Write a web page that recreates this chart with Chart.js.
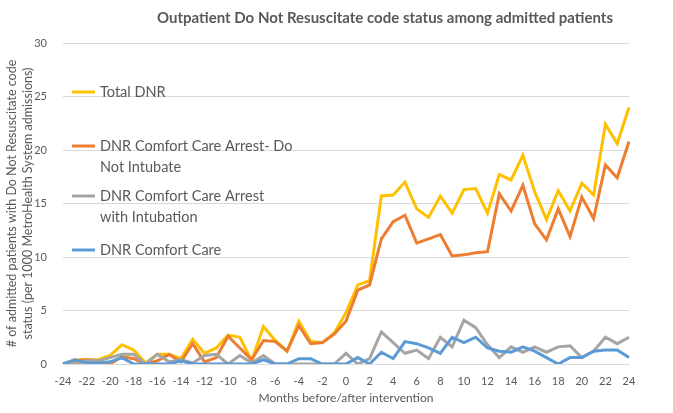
<!DOCTYPE html>
<html>
<head>
<meta charset="utf-8">
<title>Outpatient DNR code status</title>
<script src="https://cdn.jsdelivr.net/npm/chart.js"></script>
<style>
  html, body { margin: 0; padding: 0; background: #fff; }
  #wrap { width: 673px; height: 413px; position: relative; }
</style>
</head>
<body>
<div id="wrap"><canvas id="dnrChart"></canvas></div>
<script>
// months before/after the intervention
const months = [-24,-23,-22,-21,-20,-19,-18,-17,-16,-15,-14,-13,-12,-11,-10,-9,-8,-7,-6,-5,-4,-3,-2,-1,
  0,1,2,3,4,5,6,7,8,9,10,11,12,13,14,15,16,17,18,19,20,21,22,23,24];

// per 1000 admissions
const totalDNR = [0,0.4,0.4,0.4,0.8,1.8,1.3,0.1,0.9,0.9,0.5,2.3,1.0,1.5,2.7,2.5,0.3,3.5,2.2,1.2,4.0,2.1,2.0,2.9,
  4.8,7.4,7.8,15.7,15.8,17.0,14.5,13.7,15.7,14.1,16.3,16.4,14.1,17.7,17.2,19.5,16.1,13.5,16.2,14.3,16.9,15.8,22.4,20.6,24.0];
const dnrCcaDni = [0,0.3,0.4,0.3,0,0.7,0.5,0,0.3,0.9,0.2,1.9,0.2,0.6,2.6,1.5,0.4,2.2,2.1,1.2,3.6,1.9,2.0,2.8,
  4.0,6.9,7.4,11.7,13.3,13.9,11.3,11.7,12.1,10.1,10.2,10.4,10.5,15.9,14.3,16.7,13.1,11.6,14.5,11.9,15.6,13.6,18.6,17.4,20.8];
const dnrCcaIntub = [0,0,0.3,0.3,0.6,0.9,0.9,0,0.9,0.2,0.4,0.1,0.8,0.9,0,0.8,0.1,0.8,0,0,0,0,0,0,
  1.0,0,0.5,3.0,2.0,1.0,1.3,0.5,2.5,1.6,4.1,3.4,1.8,0.6,1.6,1.1,1.6,1.1,1.6,1.7,0.6,1.2,2.5,1.9,2.5];
const dnrCc = [0,0.4,0.1,0.1,0.2,0.6,0,0,0,0,0.3,0,0,0,0,0,0,0.4,0,0,0.5,0.5,0,0,
  0,0.6,0,1.1,0.5,2.1,1.9,1.5,1.0,2.5,2.0,2.5,1.5,1.2,1.1,1.6,1.2,0.6,0,0.6,0.6,1.2,1.3,1.3,0.6];

const seriesLabels = [
  ['Total DNR'],
  ['DNR Comfort Care Arrest- Do', 'Not Intubate'],
  ['DNR Comfort Care Arrest', 'with Intubation'],
  ['DNR Comfort Care']
];
const colors = ['#FFC000', '#ED7D31', '#A5A5A5', '#5B9BD5'];

const chartTitle = 'Outpatient Do Not Resuscitate code status among admitted patients';
const yTitle = ['# of admitted patients with Do Not Resuscitate code', 'status (per 1000 MetroHealth System admissions)'];
const textColor = '#595959';
const fontFamily = 'Lato, "Open Sans", sans-serif';

// chart title (right of centre) and the two-line y title, drawn by hand
const titlesPlugin = {
  id: 'titlesPlugin',
  afterDraw(chart) {
    const ctx = chart.ctx;
    const area = chart.chartArea;
    ctx.save();
    ctx.fillStyle = textColor;
    ctx.textBaseline = 'middle';
    ctx.textAlign = 'center';
    ctx.font = 'bold 15px ' + fontFamily;
    ctx.fillText(chartTitle, 385, 18);

    ctx.font = '12.5px ' + fontFamily;
    ctx.translate(0, (area.top + area.bottom) / 2);
    ctx.rotate(-Math.PI / 2);
    ctx.fillText(yTitle[0], 0, 12);
    ctx.fillText(yTitle[1], 0, 28);
    ctx.restore();
  }
};

// legend drawn inside the plot area, left side, like the original
const insideLegend = {
  id: 'insideLegend',
  afterDraw(chart) {
    const ctx = chart.ctx;
    const area = chart.chartArea;
    const rows = [49, 103, 153, 207]; // offset of first text line from plot top
    ctx.save();
    ctx.font = '14.5px ' + fontFamily;
    ctx.fillStyle = textColor;
    ctx.textBaseline = 'middle';
    chart.data.datasets.forEach((ds, i) => {
      const y = area.top + rows[i];
      ctx.strokeStyle = ds.borderColor;
      ctx.lineWidth = 3;
      ctx.beginPath();
      ctx.moveTo(area.left + 9, y);
      ctx.lineTo(area.left + 32, y);
      ctx.stroke();
      ds.label.forEach((line, j) => {
        ctx.fillText(line, area.left + 37, y + j * 21);
      });
    });
    ctx.restore();
  }
};

const datasets = [totalDNR, dnrCcaDni, dnrCcaIntub, dnrCc].map((vals, i) => ({
  label: seriesLabels[i],
  data: vals,
  borderColor: colors[i],
  backgroundColor: colors[i],
  borderWidth: 3,
  pointRadius: 0,
  tension: 0,
  fill: false,
  order: 4 - i
}));

new Chart(document.getElementById('dnrChart'), {
  type: 'line',
  data: { labels: months, datasets },
  plugins: [insideLegend, titlesPlugin],
  options: {
    responsive: true,
    maintainAspectRatio: false,
    animation: false,
    layout: { padding: { left: 0, right: 44, top: 43, bottom: 8 } },
    plugins: {
      legend: { display: false },
      tooltip: { enabled: false },
      title: { display: false }
    },
    scales: {
      x: {
        offset: false,
        afterFit(scale) { scale.height = 41; },
        grid: { display: false, drawTicks: false },
        border: { display: true, color: '#d9d9d9', width: 1 },
        ticks: {
          autoSkip: false,
          maxRotation: 0,
          color: textColor,
          font: { family: fontFamily, size: 11 },
          padding: 11,
          callback(value, index) {
            const m = months[index];
            return m % 2 === 0 ? String(m) : '';
          }
        },
        title: {
          display: true,
          text: 'Months before/after intervention',
          color: textColor,
          font: { family: fontFamily, size: 12 },
          padding: { top: 0, bottom: 0 }
        }
      },
      y: {
        min: 0,
        max: 30,
        afterFit(scale) { scale.width = 63; },
        ticks: {
          stepSize: 5,
          color: textColor,
          font: { family: fontFamily, size: 11 },
          padding: 16
        },
        grid: { color: '#d9d9d9', drawTicks: false },
        border: { display: false },
        title: { display: false }
      }
    }
  }
});
</script>
</body>
</html>
